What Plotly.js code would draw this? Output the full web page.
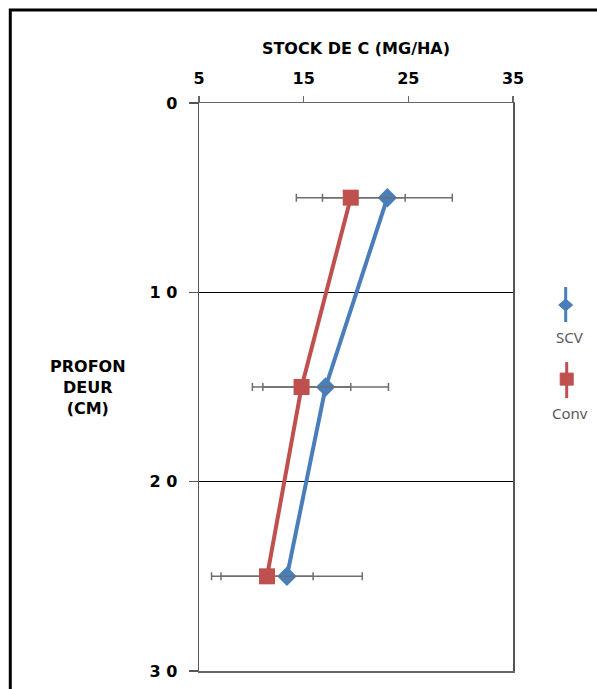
<!DOCTYPE html>
<html>
<head>
<meta charset="utf-8">
<script src="https://cdn.plot.ly/plotly-3.0.1.min.js"></script>
<style>html,body{margin:0;padding:0;background:#fff;}#chart{width:597px;height:689px;}</style>
</head>
<body>
<div id="chart"></div>
<script>
// Depth (cm) of each sample layer
const depths = [5, 15, 25];
// Carbon stock (Mg/ha) per system
const scvStock = [23.0, 17.1, 13.4];
const convStock = [19.5, 14.8, 11.5];
// Error bar half-widths
const scvErr = [6.2, 6.0, 7.2];
const convErr = [5.2, 4.7, 4.4];
// Axis tick values and labels
const xTicks = [5, 15, 25, 35];
const xTickText = ['5', '15', '25', '35'];
const yTicks = [0, 10, 20, 30];
const yTickText = ['0', '1 0', '2 0', '3 0'];
const seriesNames = ['SCV', 'Conv'];

const blue = '#4a7ebb';
const red = '#c0504d';
const errColor = '#6e6e6e';

const traces = [
  {
    x: scvStock, y: depths, name: seriesNames[0], type: 'scatter', mode: 'lines+markers',
    line: {color: blue, width: 4},
    marker: {symbol: 'diamond', size: 15, color: blue},
    error_x: {type: 'data', array: scvErr, visible: true, color: errColor, thickness: 1.5, width: 4},
    cliponaxis: false
  },
  {
    x: convStock, y: depths, name: seriesNames[1], type: 'scatter', mode: 'lines+markers',
    line: {color: red, width: 4},
    marker: {symbol: 'square', size: 16, color: red},
    error_x: {type: 'data', array: convErr, visible: true, color: errColor, thickness: 1.5, width: 4},
    cliponaxis: false
  }
];

const layout = {
  width: 597, height: 689,
  margin: {l: 199, r: 84, t: 103, b: 18, pad: 0},
  paper_bgcolor: '#fff', plot_bgcolor: '#fff',
  showlegend: false,
  xaxis: {
    side: 'top', range: [5, 35], tickvals: xTicks, ticktext: xTickText,
    showgrid: false, zeroline: false,
    showline: true, linecolor: '#666', linewidth: 1.5, mirror: true,
    ticks: 'outside', ticklen: 6, tickcolor: '#666', tickwidth: 1.5,
    tickfont: {family: 'DejaVu Sans', size: 16, color: '#000', weight: 'bold'}, ticklabelstandoff: 5,
    title: {text: 'STOCK DE C (MG/HA)', font: {family: 'DejaVu Sans', size: 16, color: '#000', weight: 'bold'}, standoff: 10}
  },
  yaxis: {
    range: [30, 0], tickvals: yTicks, ticktext: yTickText,
    showgrid: true, gridcolor: '#000', gridwidth: 1, zeroline: false,
    showline: true, linecolor: '#555', linewidth: 1.5, mirror: true,
    ticks: 'outside', ticklen: 9, tickcolor: '#555', tickwidth: 1.5,
    tickfont: {family: 'DejaVu Sans', size: 16, color: '#000', weight: 'bold'}, ticklabelstandoff: 8
  },
  annotations: [
    {xref: 'paper', yref: 'paper', x: -0.353, y: 0.5, xanchor: 'center', yanchor: 'middle',
     text: 'PROFON<br>DEUR<br>(CM)', showarrow: false, align: 'center',
     font: {family: 'DejaVu Sans', size: 16, color: '#000', weight: 'bold'}},
    {xref: 'paper', yref: 'paper', x: 1.181, y: 0.588, xanchor: 'center', yanchor: 'middle',
     text: seriesNames[0], showarrow: false, font: {family: 'Noto Sans', size: 15, color: '#595959'}},
    {xref: 'paper', yref: 'paper', x: 1.183, y: 0.454, xanchor: 'center', yanchor: 'middle',
     text: seriesNames[1], showarrow: false, font: {family: 'Noto Sans', size: 15, color: '#595959'}}
  ],
  shapes: [
    // outer frame
    {type: 'rect', xref: 'paper', yref: 'paper', x0: -0.601, x1: 1.6, y0: -0.3, y1: 1.1636,
     line: {color: '#000', width: 3}, fillcolor: 'rgba(0,0,0,0)'},
    // legend SCV
    {type: 'line', xref: 'paper', yref: 'paper', x0: 1.1678, x1: 1.1678, y0: 0.6144, y1: 0.6761,
     line: {color: blue, width: 3}},
    {type: 'path', xref: 'paper', yref: 'paper',
     path: 'M 1.1455 0.6444 L 1.1678 0.6550 L 1.1901 0.6444 L 1.1678 0.6338 Z',
     fillcolor: blue, line: {color: blue, width: 1}},
    // legend Conv
    {type: 'line', xref: 'paper', yref: 'paper', x0: 1.1710, x1: 1.1710, y0: 0.4804, y1: 0.5439,
     line: {color: red, width: 3}},
    {type: 'rect', xref: 'paper', yref: 'paper', x0: 1.1503, x1: 1.1917, y0: 0.5033, y1: 0.5245,
     fillcolor: red, line: {color: red, width: 1}}
  ]
};

Plotly.newPlot('chart', traces, layout, {displayModeBar: false, staticPlot: true});
</script>
</body>
</html>
